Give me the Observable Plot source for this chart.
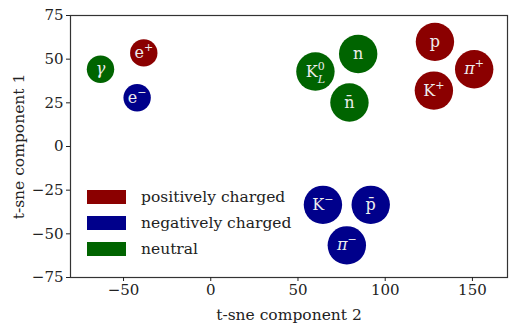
<!DOCTYPE html>
<html><head><meta charset="utf-8">
<script src="https://cdn.jsdelivr.net/npm/d3@7"></script>
<script src="https://cdn.jsdelivr.net/npm/@observablehq/plot@0.6"></script>
<style>
body{margin:0;background:#fff}
#c{position:relative;width:516px;height:332px;font-family:"DejaVu Serif",serif}
#c svg, #c svg text{font-family:"DejaVu Serif",serif !important}
#legend{position:absolute;left:87px;top:184px}
.row{display:flex;align-items:center;height:26px;font-size:15.5px;color:#222}
.sw{width:39px;height:14px;margin-right:15px;box-sizing:border-box}
</style>
</head><body><div id="c"><div id="legend"></div></div>
<script>
const labels = ["γ","e+","e−","K0L","n","n̄","p","π+","K+","K−","p̄","π−"];
const xs = [-63.2,-38.4,-42.2,60.0,84.5,79.5,128.5,151.0,127.9,64.3,91.7,78.0];
const ys = [44.2,53.6,27.9,42.9,53.0,25.2,59.9,44.2,32.0,-33.4,-33.4,-56.6];
const charge = ["neutral","positively charged","negatively charged","neutral","neutral","neutral",
  "positively charged","positively charged","positively charged","negatively charged","negatively charged","negatively charged"];
const kind = ["light","light","light","hadron","hadron","hadron","hadron","hadron","hadron","hadron","hadron","hadron"];
const categories = ["positively charged","negatively charged","neutral"];
const colors = ["#8b0000","#00008b","#006400"];
const xTicks = [-50,0,50,100,150];
const yTicks = [-75,-50,-25,0,25,50,75];

const data = labels.map((l,i)=>({label:l,x:xs[i],y:ys[i],charge:charge[i],kind:kind[i]}));

const plot = Plot.plot({
  width:516, height:332,
  marginLeft:70, marginTop:15, marginRight:9, marginBottom:55,
  style:{fontSize:"15px", color:"#222", background:"#fff"},
  x:{domain:[-80.4,170.1]},
  y:{domain:[-75,75]},
  color:{domain:categories, range:colors},
  r:{type:"identity"},
  marks:[
    Plot.dot(data,{x:"x",y:"y",r:d=>d.kind==="hadron"?19.2:13.7,fill:"charge",stroke:"none"}),
    Plot.text(data,{x:"x",y:"y",text:"label",fill:"#eee",fontSize:16}),
    Plot.frame({stroke:"#333",strokeWidth:1.2}),
    Plot.axisX({ticks:xTicks,tickSize:4,tickPadding:3,fontSize:15,label:null}),
    Plot.axisX({ticks:[],label:"t-sne component 2",labelAnchor:"center",labelArrow:"none",labelOffset:42,fontSize:15.5}),
    Plot.axisY({ticks:yTicks,tickSize:4,tickPadding:3,fontSize:15,label:null}),
    Plot.axisY({ticks:[],label:"t-sne component 1",labelAnchor:"center",labelArrow:"none",labelOffset:58,fontSize:15.5})
  ]
});
document.getElementById("c").prepend(plot);

const rich = {
  "e+":'e<tspan dy="-7" font-size="11">+</tspan>',
  "e−":'e<tspan dy="-7" font-size="11">−</tspan>',
  "π+":'<tspan font-style="italic">π</tspan><tspan dy="-7" font-size="11">+</tspan>',
  "π−":'<tspan font-style="italic">π</tspan><tspan dy="-7" font-size="11">−</tspan>',
  "K+":'K<tspan dy="-7" font-size="11">+</tspan>',
  "K−":'K<tspan dy="-7" font-size="11">−</tspan>',
  "K0L":'K<tspan dy="-7" font-size="11">0</tspan><tspan dx="-7" dy="13" font-size="11" font-style="italic">L</tspan>',
  "γ":'<tspan font-style="italic">γ</tspan>'
};
plot.querySelectorAll('g[aria-label="text"] text').forEach(t=>{
  const s=t.textContent; if(rich[s]) t.innerHTML=rich[s];
});

const lg=document.getElementById("legend");
categories.forEach((c,i)=>{
  const r=document.createElement("div");r.className="row";
  r.innerHTML=`<div class="sw" style="background:${colors[i]};border:1px solid ${colors[i]}"></div><span>${c}</span>`;
  lg.appendChild(r);
});
</script>
</body></html>
